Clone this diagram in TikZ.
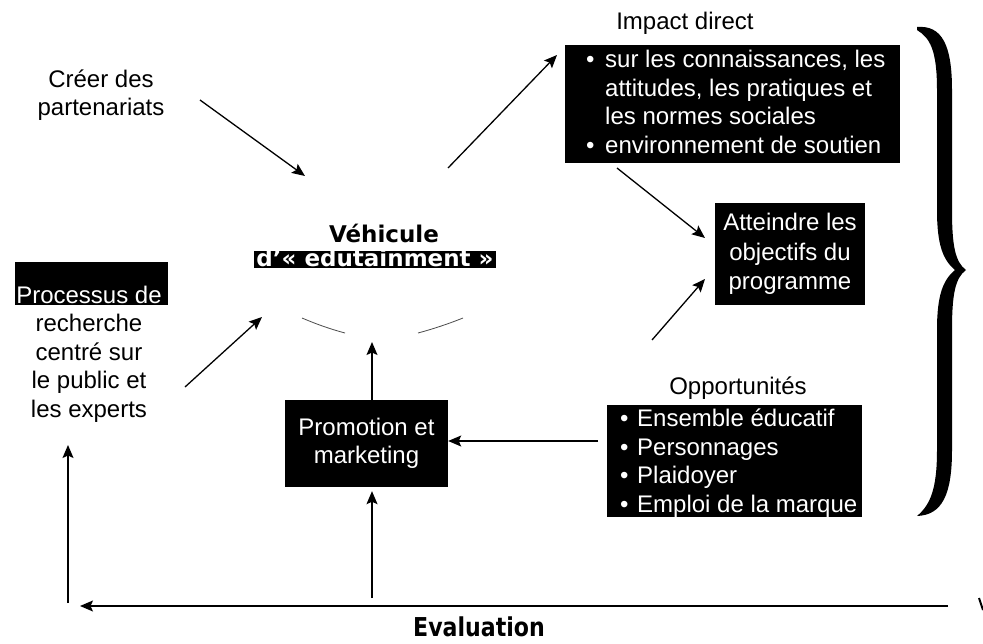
\documentclass[tikz,border=0pt]{standalone}
\usepackage{fontspec}
\setmainfont{Liberation Sans}
\newfontfamily\heavyfont{DejaVu Sans}
\newfontfamily\evalfont{DejaVu Sans}[FakeStretch=0.85]
\usetikzlibrary{arrows.meta,shapes.geometric}

% bullet with a fixed-width slot, and the matching indent for continuation lines
\newcommand\lstbullet[1][19pt]{\makebox[#1][l]{\textbullet}}
\newcommand\lstindent[1][19pt]{\hspace*{#1}}

\tikzset{
  body/.style={font=\fontsize{24}{28.5}\selectfont, inner sep=0pt},
  plain/.style={body, align=center},
  darkbox/.style={body, fill=black, text=white, align=center},
  whitelist/.style={body, text=white, align=left},
  headline/.style={font=\heavyfont\bfseries\fontsize{23}{26}\selectfont, inner sep=0pt},
  arr/.style={line width=1.3pt, -{Stealth[length=13pt,width=11pt,inset=2.5pt]}},
  rim/.style={line width=0.8pt, black!70},
}

\begin{document}
\begin{tikzpicture}[x=1pt,y=-1pt]
\useasboundingbox (0,0) rectangle (983,643);

% ---------- left column ----------
\node[plain] (creer) at (101,95) {Créer des\\partenariats};

\node[fill=black, minimum width=153pt, minimum height=43pt, inner sep=0pt] (procband) at (91.5,283.5) {};
\node[plain] (proc) at (89,354) {\textcolor{white}{Processus de}\\recherche\\centré sur\\le public et\\les experts};

% ---------- edutainment vehicle ----------
\node[ellipse, minimum width=260pt, minimum height=174pt, draw=none] (veh) at (382,250) {};
\node[headline] (vehtitle) at (384,233) {Véhicule};
\node[headline, fill=black, text=white, text height=14pt, text depth=1pt, inner ysep=1pt, inner xsep=2pt] (edu) at (375,259.5) {d’«~edutainment~»};
\draw[rim] (302,318) .. controls (316,324) and (330,329) .. (345,333);
\draw[rim] (418,333) .. controls (433,329) and (448,324) .. (463,318);

% ---------- direct impact ----------
\node[plain] (impacttitle) at (685,23) {Impact direct};
\node[darkbox, minimum width=335pt, minimum height=118pt] (impact) at (732.5,104) {};
\node[whitelist, anchor=west] (impacttxt) at (586,102) {\lstbullet sur les connaissances, les\\\lstindent attitudes, les pratiques et\\\lstindent les normes sociales\\\lstbullet environnement de soutien};

% ---------- programme objectives ----------
\node[darkbox, font=\fontsize{24}{29.5}\selectfont, minimum width=150pt, minimum height=102pt] (goal) at (790,254) {Atteindre les\\objectifs du\\programme};

% ---------- opportunities ----------
\node[plain] (opptitle) at (738,388) {Opportunités};
\node[darkbox, minimum width=255pt, minimum height=112pt] (opp) at (734.5,461) {};
\node[whitelist, anchor=west] (opptxt) at (620,463) {\lstbullet[17pt]Ensemble éducatif\\\lstbullet[17pt]Personnages\\\lstbullet[17pt]Plaidoyer\\\lstbullet[17pt]Emploi de la marque};

% ---------- promotion ----------
\node[darkbox, minimum width=163pt, minimum height=87pt] (promo) at (366.5,443.5) {Promotion et\\marketing};

% ---------- evaluation ----------
\node[font=\evalfont\bfseries\fontsize{26}{28}\selectfont, inner sep=0pt] (evaltxt) at (479,627) {Evaluation};

% ---------- connector end points ----------
\coordinate (creerout) at (200,100);
\coordinate (vehin1) at (305,176);
\coordinate (vehout) at (448,168);
\coordinate (impactin) at (557,55);
\coordinate (impactout) at (617,168);
\coordinate (goalin1) at (705,238);
\coordinate (oppout1) at (652,340);
\coordinate (goalin2) at (705,279);
\coordinate (oppout2) at (598,441);
\coordinate (vehin2) at (372,342);
\coordinate (procout) at (185,387);
\coordinate (vehin3) at (262,317);
\coordinate (evalmid) at (372,598);
\coordinate (evalleft) at (68,603);
\coordinate (procin) at (68,445);
\coordinate (evalright) at (948,606);
\coordinate (evalend) at (80,606);

% ---------- connectors ----------
\draw[arr] (creerout) -- (vehin1);
\draw[arr] (vehout) -- (impactin);
\draw[arr] (impactout) -- (goalin1);
\draw[arr] (oppout1) -- (goalin2);
\draw[arr] (oppout2) -- (oppout2 -| promo.east);
\draw[arr] (promo.north -| vehin2) -- (vehin2);
\draw[arr, shorten >=4pt] (evalmid) -- (evalmid |- promo.south);
\draw[arr] (procout) -- (vehin3);
\draw[arr] (evalleft) -- (procin);
\draw[arr] (evalright) -- (evalend);
\draw[line width=2pt] (979,598) -- (983,610);

% ---------- right brace ----------
\fill (917,27) .. controls (942,25) and (952,45) .. (952,90)
  -- (952,210) .. controls (952,245) and (955,262) .. (966,270)
  .. controls (955,278) and (952,295) .. (952,330)
  -- (952,450) .. controls (952,495) and (942,515) .. (917,516)
  .. controls (930,505) and (937,490) .. (937,450)
  -- (937,330) .. controls (937,295) and (943,280) .. (955,270)
  .. controls (943,260) and (937,245) .. (937,210)
  -- (937,90) .. controls (937,50) and (930,38) .. (917,30) -- cycle;
\end{tikzpicture}
\end{document}
